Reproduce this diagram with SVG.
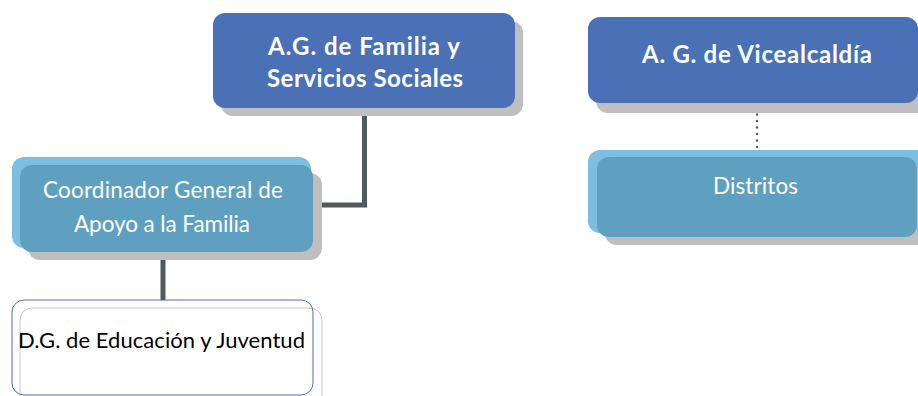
<svg xmlns="http://www.w3.org/2000/svg" width="918" height="396" viewBox="0 0 918 396">
<style>
.shadow{fill:#bfbfbf}
.dark{fill:#4a71b6}
.light{fill:#7dbfe0}
.teal{fill:#5f9fc0}
.tb{font-family:Lato,"Open Sans","Liberation Sans",sans-serif;font-weight:bold;font-size:24px;fill:#ffffff;text-anchor:middle}
.tr{font-family:Lato,"Open Sans","Liberation Sans",sans-serif;font-size:22.5px;fill:#ffffff;text-anchor:middle}
.tk{font-family:Lato,"Open Sans","Liberation Sans",sans-serif;font-size:22px;fill:#000000;text-anchor:middle}
.conn{fill:none;stroke:#505b5d;stroke-width:5}
.dot{fill:none;stroke:#505b5d;stroke-width:2.5;stroke-linecap:round;stroke-dasharray:0 6.5}
</style>
<rect width="918" height="396" fill="#ffffff"/>
<g id="connectors">
<path class="conn" d="M364.5,108 V205 H313"/>
<path class="conn" d="M163,252 V300"/>
<path class="dot" d="M757,108 V150"/>
</g>
<g id="node-familia">
<rect class="shadow" x="221" y="21" width="302" height="95" rx="12"/>
<rect class="dark" x="213" y="13" width="302" height="95" rx="12"/>
<text class="tb" x="364" y="55" textLength="192">A.G. de Familia y</text>
<text class="tb" x="365" y="87" textLength="196">Servicios Sociales</text>
</g>
<g id="node-coordinador">
<rect class="light" x="12" y="157" width="299" height="91" rx="12"/>
<rect class="shadow" x="28" y="173" width="294" height="87" rx="12"/>
<rect class="teal" x="20" y="165" width="293" height="87" rx="12"/>
<text class="tr" x="163" y="198" textLength="240">Coordinador General de</text>
<text class="tr" x="162" y="232" textLength="176">Apoyo a la Familia</text>
</g>
<g id="node-educacion">
<rect x="20" y="308" width="302" height="110" rx="12" fill="#ffffff" stroke="#c8c8c8" stroke-width="1"/>
<rect x="12" y="300" width="301" height="95" rx="12" fill="none" stroke="#4a71b6" stroke-width="1"/>
<text class="tk" x="161.5" y="348" textLength="287">D.G. de Educación y Juventud</text>
</g>
<g id="node-vicealcaldia">
<rect class="shadow" x="596" y="26" width="340" height="87" rx="12"/>
<rect class="dark" x="588" y="17" width="330" height="86" rx="12"/>
<text class="tb" x="757" y="63" textLength="230">A. G. de Vicealcaldía</text>
</g>
<g id="node-distritos">
<rect class="light" x="588" y="150" width="340" height="83" rx="12"/>
<rect class="shadow" x="605" y="165" width="330" height="80" rx="12"/>
<rect class="teal" x="597" y="157" width="320" height="80" rx="12"/>
<text class="tr" x="755.5" y="194" textLength="85">Distritos</text>
</g>
</svg>
